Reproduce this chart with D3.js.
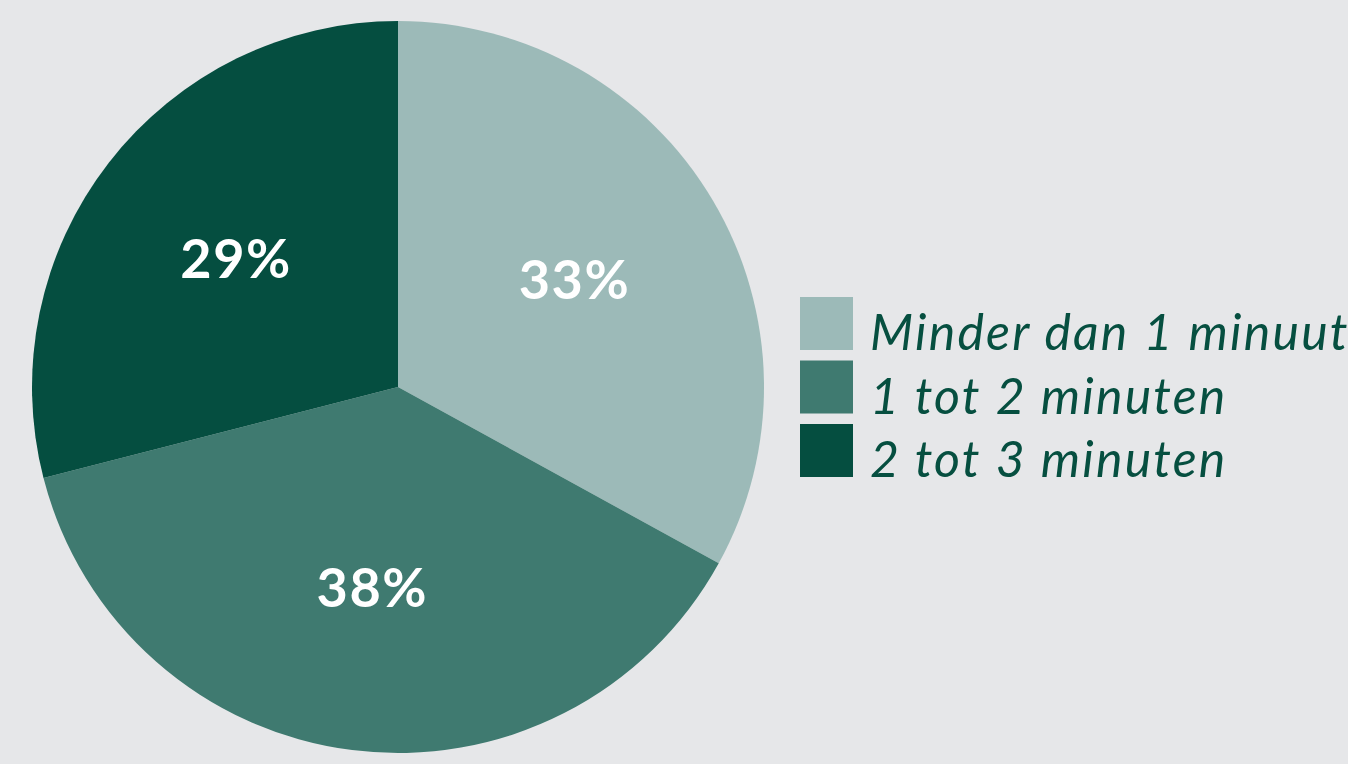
<!DOCTYPE html>
<html>
<head>
<meta charset="utf-8">
<script src="https://cdn.jsdelivr.net/npm/d3@7"></script>
<style>
  html, body { margin: 0; padding: 0; background: #e6e7e9; overflow: hidden; }
  svg { display: block; }
</style>
</head>
<body>
<div id="chart"></div>
<script>
// chart data
const categories = ['Minder dan 1 minuut', '1 tot 2 minuten', '2 tot 3 minuten'];
const values = [33, 38, 29];
const colors = ['#9cbab8', '#3f7a70', '#054e40'];

const width = 1348, height = 764;
const cx = 398, cy = 387, radius = 366;

const svg = d3.select('#chart')
    .append('svg')
    .attr('width', width)
    .attr('height', height);

svg.append('rect')
    .attr('width', width)
    .attr('height', height)
    .attr('fill', '#e6e7e9');

const pie = d3.pie().sort(null).value(d => d);
const arcs = pie(values);

const arc = d3.arc().innerRadius(0).outerRadius(radius);
const labelArc = d3.arc().innerRadius(205).outerRadius(205);

const g = svg.append('g')
    .attr('transform', 'translate(' + cx + ',' + cy + ')');

g.selectAll('path.slice')
    .data(arcs)
    .enter()
    .append('path')
    .attr('class', 'slice')
    .attr('d', arc)
    .attr('fill', (d, i) => colors[i]);

g.selectAll('text.pct')
    .data(arcs)
    .enter()
    .append('text')
    .attr('class', 'pct')
    .attr('transform', d => {
        let c = labelArc.centroid(d);
        return 'translate(' + c[0] + ',' + c[1] + ')';
    })
    .attr('text-anchor', 'middle')
    .attr('dy', '0.3em')
    .attr('fill', '#ffffff')
    .style('font-family', 'Lato, "Open Sans", sans-serif')
    .style('font-weight', 'bold')
    .style('font-size', '54px')
    .style('letter-spacing', '1.5px')
    .text(d => d.value + '%');

// legend
const legend = svg.append('g')
    .attr('transform', 'translate(800,297)');

const item = legend.selectAll('g.item')
    .data(categories)
    .enter()
    .append('g')
    .attr('class', 'item')
    .attr('transform', (d, i) => 'translate(0,' + (i * 63.5) + ')');

item.append('rect')
    .attr('width', 53)
    .attr('height', 53)
    .attr('fill', (d, i) => colors[i]);

item.append('text')
    .attr('x', 70)
    .attr('y', 53)
    .attr('fill', '#064f40')
    .style('font-family', 'Lato, "Open Sans", sans-serif')
    .style('font-style', 'italic')
    .style('font-size', '50px')
    .style('letter-spacing', '2.2px')
    .text(d => d);
</script>
</body>
</html>
